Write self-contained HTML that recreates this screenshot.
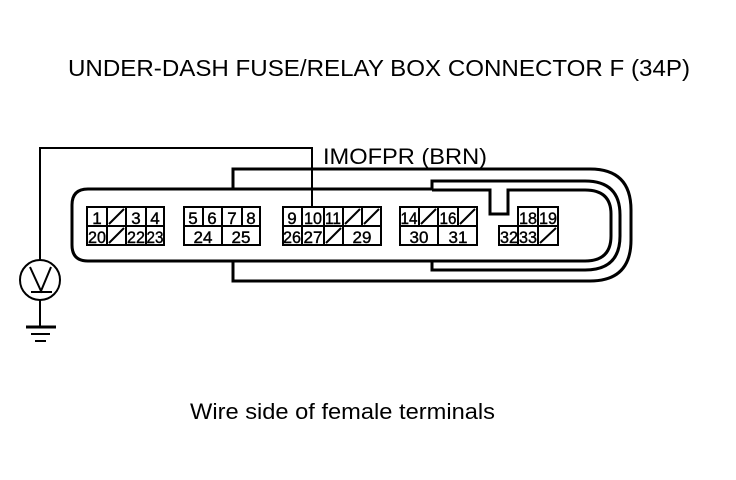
<!DOCTYPE html>
<html><head><meta charset="utf-8"><style>
html,body{margin:0;padding:0;background:#fff;}
svg{display:block;}
text{font-family:"Liberation Sans",sans-serif;fill:#000;}
.d{font-size:17px;}
</style></head><body>
<svg width="736" height="480" viewBox="0 0 736 480" xmlns="http://www.w3.org/2000/svg">
<text x="68" y="76" font-size="23" textLength="622" lengthAdjust="spacingAndGlyphs">UNDER-DASH FUSE/RELAY BOX CONNECTOR F (34P)</text>
<text x="323" y="164" font-size="22" textLength="164" lengthAdjust="spacingAndGlyphs">IMOFPR (BRN)</text>
<text x="190" y="419" font-size="22" textLength="305" lengthAdjust="spacingAndGlyphs">Wire side of female terminals</text>
<g fill="none" stroke="#000" stroke-width="3">
<path d="M233,189 L88,189 Q72,189 72,205 L72,245 Q72,261 88,261 L233,261"/>
<path d="M233,189 L233,169 L590,169 Q631,169 631,210 L631,240 Q631,281 590,281 L233,281 L233,261"/>
<path d="M233,189 L432,189 L432,181 L585,181 Q620,181 620,215 L620,236 Q620,270 585,270 L432,270 L432,261 L233,261"/>
<path d="M432,190 L490,190 L490,214 L508,214 L508,190 L585,190 Q611,190 611,214 L611,236 Q611,261 585,261 L432,261"/>
</g>
<g fill="none" stroke="#000" stroke-width="2">
<rect x="87" y="207" width="77" height="38"/>
<line x1="87" y1="226" x2="164" y2="226"/>
<line x1="107" y1="207" x2="107" y2="245"/><line x1="126" y1="207" x2="126" y2="245"/><line x1="146" y1="207" x2="146" y2="245"/>
<line x1="109" y1="224" x2="124" y2="209"/><line x1="109" y1="243" x2="124" y2="228"/>
<rect x="184" y="207" width="76" height="38"/>
<line x1="184" y1="226" x2="260" y2="226"/>
<line x1="203" y1="207" x2="203" y2="226"/><line x1="222" y1="207" x2="222" y2="245"/><line x1="242" y1="207" x2="242" y2="226"/>
<rect x="283" y="207" width="98" height="38"/>
<line x1="283" y1="226" x2="381" y2="226"/>
<line x1="302" y1="207" x2="302" y2="245"/><line x1="324" y1="207" x2="324" y2="245"/><line x1="343" y1="207" x2="343" y2="245"/><line x1="362" y1="207" x2="362" y2="226"/>
<line x1="345" y1="224" x2="360" y2="209"/><line x1="364" y1="224" x2="379" y2="209"/><line x1="326" y1="243" x2="341" y2="228"/>
<rect x="400" y="207" width="77" height="38"/>
<line x1="400" y1="226" x2="477" y2="226"/>
<line x1="419" y1="207" x2="419" y2="226"/><line x1="438" y1="207" x2="438" y2="245"/><line x1="458" y1="207" x2="458" y2="226"/>
<line x1="421" y1="224" x2="436" y2="209"/><line x1="460" y1="224" x2="475" y2="209"/>
<path d="M518,226 L518,207 L558,207 L558,245 L499,245 L499,226 L558,226"/>
<line x1="538" y1="207" x2="538" y2="245"/><line x1="518" y1="226" x2="518" y2="245"/>
<line x1="540" y1="243" x2="556" y2="228"/>
<path d="M312,207 L312,148 L40,148 L40,260"/>
<circle cx="40" cy="280" r="20"/>
<path d="M30,267 L41,291 L51,267"/>
<line x1="31" y1="292" x2="52" y2="292"/>
<line x1="40" y1="300" x2="40" y2="326"/>
</g>
<g stroke="#000" stroke-width="3">
<line x1="26" y1="327" x2="56" y2="327"/>
<line x1="31" y1="334" x2="50" y2="334" stroke-width="2"/>
<line x1="35" y1="341" x2="46" y2="341" stroke-width="2"/>
</g>
<g class="d" text-anchor="middle" stroke="#000" stroke-width="0.4">
<text x="97" y="224">1</text><text x="136" y="224">3</text><text x="155" y="224">4</text>
<text x="97" y="243" textLength="18" lengthAdjust="spacingAndGlyphs">20</text><text x="136" y="243" textLength="18" lengthAdjust="spacingAndGlyphs">22</text><text x="155" y="243" textLength="17" lengthAdjust="spacingAndGlyphs">23</text>
<text x="193" y="224">5</text><text x="212" y="224">6</text><text x="232" y="224">7</text><text x="251" y="224">8</text>
<text x="203" y="243">24</text><text x="241" y="243">25</text>
<text x="292" y="224">9</text><text x="313" y="224" textLength="18" lengthAdjust="spacingAndGlyphs">10</text><text x="333" y="224" textLength="16" lengthAdjust="spacingAndGlyphs">11</text>
<text x="292" y="243" textLength="18" lengthAdjust="spacingAndGlyphs">26</text><text x="313" y="243" textLength="19" lengthAdjust="spacingAndGlyphs">27</text><text x="362" y="243">29</text>
<text x="409" y="224" textLength="17" lengthAdjust="spacingAndGlyphs">14</text><text x="448" y="224" textLength="17" lengthAdjust="spacingAndGlyphs">16</text>
<text x="419" y="243">30</text><text x="458" y="243">31</text>
<text x="528" y="224" textLength="18" lengthAdjust="spacingAndGlyphs">18</text><text x="548" y="224" textLength="18" lengthAdjust="spacingAndGlyphs">19</text>
<text x="509" y="243" textLength="18" lengthAdjust="spacingAndGlyphs">32</text><text x="528" y="243" textLength="18" lengthAdjust="spacingAndGlyphs">33</text>
</g>
</svg>
</body></html>
